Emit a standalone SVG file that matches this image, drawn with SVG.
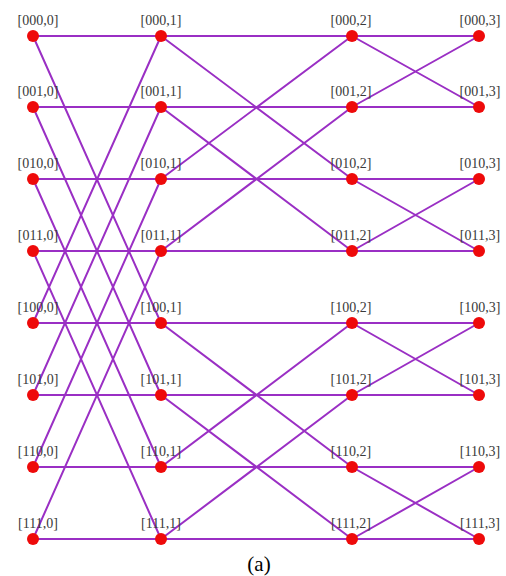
<svg xmlns="http://www.w3.org/2000/svg" width="506" height="576" viewBox="0 0 506 576">
<style>
.e{stroke:#9a2fc4;stroke-width:2;fill:none}
.n{fill:#ee0a0a}
.t{font-family:"Liberation Serif","Times New Roman",serif;font-size:14px;fill:#3a3a3a;text-anchor:middle}
.c{font-family:"Liberation Serif","Times New Roman",serif;font-size:21px;fill:#000;text-anchor:middle}
</style>
<rect width="506" height="576" fill="#fff"/>
<g id="edges" class="e">
<path d="M33 36H479M33 107H479M33 179H479M33 251H479M33 323H479M33 395H479M33 467H479M33 539H479"/>
<path d="M33 36L161 323M33 107L161 395M33 179L161 467M33 251L161 539M33 323L161 36M33 395L161 107M33 467L161 179M33 539L161 251"/>
<path d="M161 36L352 179M161 107L352 251M161 179L352 36M161 251L352 107M161 323L352 467M161 395L352 539M161 467L352 323M161 539L352 395"/>
<path d="M352 36L479 107M352 107L479 36M352 179L479 251M352 251L479 179M352 323L479 395M352 395L479 323M352 467L479 539M352 539L479 467"/>
</g>
<g id="n000_0"><circle class="n" cx="33" cy="36" r="6"/><text class="t" x="38" y="25">[000,0]</text></g>
<g id="n001_0"><circle class="n" cx="33" cy="107" r="6"/><text class="t" x="38" y="96">[001,0]</text></g>
<g id="n010_0"><circle class="n" cx="33" cy="179" r="6"/><text class="t" x="38" y="168">[010,0]</text></g>
<g id="n011_0"><circle class="n" cx="33" cy="251" r="6"/><text class="t" x="38" y="240">[011,0]</text></g>
<g id="n100_0"><circle class="n" cx="33" cy="323" r="6"/><text class="t" x="38" y="312">[100,0]</text></g>
<g id="n101_0"><circle class="n" cx="33" cy="395" r="6"/><text class="t" x="38" y="384">[101,0]</text></g>
<g id="n110_0"><circle class="n" cx="33" cy="467" r="6"/><text class="t" x="38" y="456">[110,0]</text></g>
<g id="n111_0"><circle class="n" cx="33" cy="539" r="6"/><text class="t" x="38" y="528">[111,0]</text></g>
<g id="n000_1"><circle class="n" cx="161" cy="36" r="6"/><text class="t" x="161" y="25">[000,1]</text></g>
<g id="n001_1"><circle class="n" cx="161" cy="107" r="6"/><text class="t" x="161" y="96">[001,1]</text></g>
<g id="n010_1"><circle class="n" cx="161" cy="179" r="6"/><text class="t" x="161" y="168">[010,1]</text></g>
<g id="n011_1"><circle class="n" cx="161" cy="251" r="6"/><text class="t" x="161" y="240">[011,1]</text></g>
<g id="n100_1"><circle class="n" cx="161" cy="323" r="6"/><text class="t" x="161" y="312">[100,1]</text></g>
<g id="n101_1"><circle class="n" cx="161" cy="395" r="6"/><text class="t" x="161" y="384">[101,1]</text></g>
<g id="n110_1"><circle class="n" cx="161" cy="467" r="6"/><text class="t" x="161" y="456">[110,1]</text></g>
<g id="n111_1"><circle class="n" cx="161" cy="539" r="6"/><text class="t" x="161" y="528">[111,1]</text></g>
<g id="n000_2"><circle class="n" cx="352" cy="36" r="6"/><text class="t" x="351" y="25">[000,2]</text></g>
<g id="n001_2"><circle class="n" cx="352" cy="107" r="6"/><text class="t" x="351" y="96">[001,2]</text></g>
<g id="n010_2"><circle class="n" cx="352" cy="179" r="6"/><text class="t" x="351" y="168">[010,2]</text></g>
<g id="n011_2"><circle class="n" cx="352" cy="251" r="6"/><text class="t" x="351" y="240">[011,2]</text></g>
<g id="n100_2"><circle class="n" cx="352" cy="323" r="6"/><text class="t" x="351" y="312">[100,2]</text></g>
<g id="n101_2"><circle class="n" cx="352" cy="395" r="6"/><text class="t" x="351" y="384">[101,2]</text></g>
<g id="n110_2"><circle class="n" cx="352" cy="467" r="6"/><text class="t" x="351" y="456">[110,2]</text></g>
<g id="n111_2"><circle class="n" cx="352" cy="539" r="6"/><text class="t" x="351" y="528">[111,2]</text></g>
<g id="n000_3"><circle class="n" cx="479" cy="36" r="6"/><text class="t" x="480" y="25">[000,3]</text></g>
<g id="n001_3"><circle class="n" cx="479" cy="107" r="6"/><text class="t" x="480" y="96">[001,3]</text></g>
<g id="n010_3"><circle class="n" cx="479" cy="179" r="6"/><text class="t" x="480" y="168">[010,3]</text></g>
<g id="n011_3"><circle class="n" cx="479" cy="251" r="6"/><text class="t" x="480" y="240">[011,3]</text></g>
<g id="n100_3"><circle class="n" cx="479" cy="323" r="6"/><text class="t" x="480" y="312">[100,3]</text></g>
<g id="n101_3"><circle class="n" cx="479" cy="395" r="6"/><text class="t" x="480" y="384">[101,3]</text></g>
<g id="n110_3"><circle class="n" cx="479" cy="467" r="6"/><text class="t" x="480" y="456">[110,3]</text></g>
<g id="n111_3"><circle class="n" cx="479" cy="539" r="6"/><text class="t" x="480" y="528">[111,3]</text></g>
<text class="c" x="259" y="571">(a)</text>
</svg>
